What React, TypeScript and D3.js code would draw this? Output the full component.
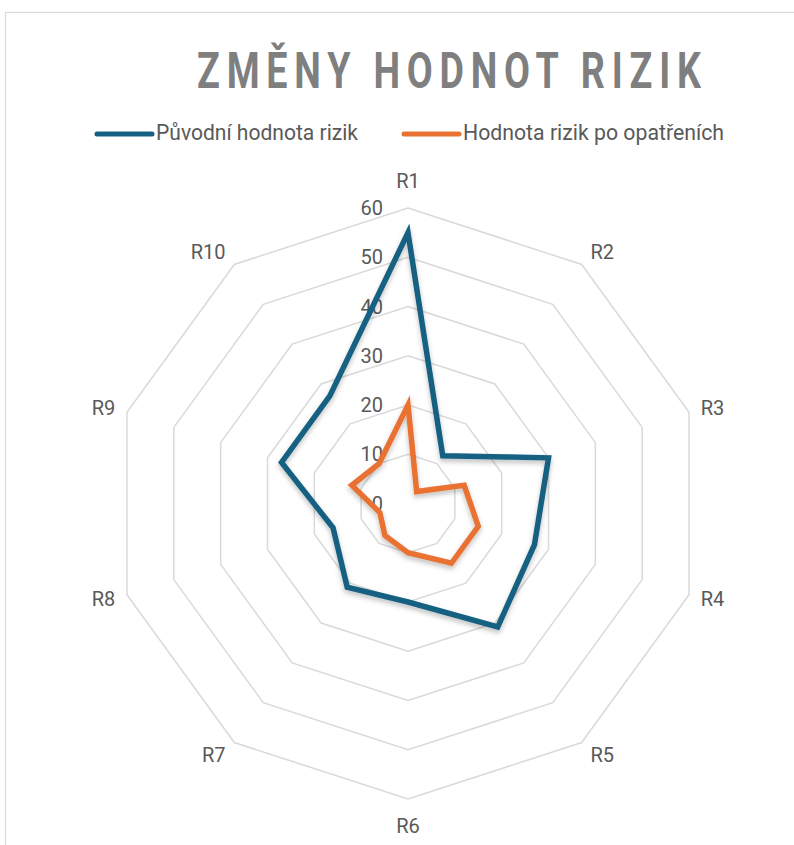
import { useEffect, useRef } from 'react';
import * as d3 from 'd3';

const categories = ['R1', 'R2', 'R3', 'R4', 'R5', 'R6', 'R7', 'R8', 'R9', 'R10'];
const puvodni = [55, 12, 30, 27, 31, 20, 21, 16, 27, 27];
const poOpatreni = [20, 3, 12, 15, 15, 10, 8, 6, 12, 10];
const ticks = [0, 10, 20, 30, 40, 50, 60];

const seriesNames = ['Původní hodnota rizik', 'Hodnota rizik po opatřeních'];
const colors = ['#156082', '#E97132'];

export default function App() {
  const svgRef = useRef<SVGSVGElement>(null);

  useEffect(() => {
    const svg = d3.select(svgRef.current);
    svg.selectAll('*').remove();

    const cx = 408;
    const cy = 503.5;
    const r = d3.scaleLinear().domain([0, 60]).range([0, 295.5]);
    const angle = (i: number) => (i * 2 * Math.PI) / categories.length;

    const defs = svg.append('defs');
    defs
      .append('filter')
      .attr('id', 'shadow')
      .attr('x', '-20%')
      .attr('y', '-20%')
      .attr('width', '140%')
      .attr('height', '140%')
      .append('feDropShadow')
      .attr('dx', 0)
      .attr('dy', 3)
      .attr('stdDeviation', 2.5)
      .attr('flood-color', '#000')
      .attr('flood-opacity', 0.25);

    // frame
    svg
      .append('rect')
      .attr('x', 5.5)
      .attr('y', 12.5)
      .attr('width', 820)
      .attr('height', 860)
      .attr('fill', 'none')
      .attr('stroke', '#d9d9d9')
      .attr('stroke-width', 1.2);

    // title: narrow spaced caps, squeezed horizontally to the reference width
    const titleG = svg.append('g');
    const title = titleG
      .append('text')
      .attr('x', 0)
      .attr('y', 0)
      .attr('letter-spacing', 9)
      .attr('font-family', 'Roboto, sans-serif')
      .attr('font-weight', 'bold')
      .attr('font-size', 50)
      .attr('fill', '#7f7f7f')
      .text('ZMĚNY HODNOT RIZIK');
    const tw = (title.node() as SVGTextElement).getComputedTextLength() - 9;
    const sx = tw > 0 ? 504 / tw : 1;
    titleG.attr('transform', `translate(197,88) scale(${sx},1)`);

    // legend
    const legendX = [97, 404];
    const legendTextW = [202, 261];
    seriesNames.forEach((name, i) => {
      svg
        .append('line')
        .attr('x1', legendX[i])
        .attr('x2', legendX[i] + 55)
        .attr('y1', 134)
        .attr('y2', 134)
        .attr('stroke', colors[i])
        .attr('stroke-width', 5)
        .attr('stroke-linecap', 'round');
      svg
        .append('text')
        .attr('x', legendX[i] + 59)
        .attr('y', 140)
        .attr('textLength', legendTextW[i])
        .attr('lengthAdjust', 'spacingAndGlyphs')
        .attr('font-family', 'Roboto, sans-serif')
        .attr('font-size', 22)
        .attr('fill', '#595959')
        .text(name);
    });

    const g = svg.append('g').attr('transform', `translate(${cx},${cy})`);

    // grid rings
    const ring = d3
      .lineRadial<string>()
      .angle((_, i) => angle(i))
      .curve(d3.curveLinearClosed);
    ticks
      .filter((t) => t > 0)
      .forEach((t) => {
        g.append('path')
          .attr('d', ring.radius(r(t))(categories))
          .attr('fill', 'none')
          .attr('stroke', '#d9d9d9')
          .attr('stroke-width', 1.5);
      });

    // tick labels
    g.selectAll('.tick')
      .data(ticks)
      .join('text')
      .attr('x', -25)
      .attr('y', (d) => -r(d))
      .attr('text-anchor', 'end')
      .attr('dominant-baseline', 'central')
      .attr('font-family', 'Roboto, sans-serif')
      .attr('font-size', 20)
      .attr('fill', '#595959')
      .text((d) => d);

    // category labels, placed beside the outer ring's vertex
    const outer = r(60);
    g.selectAll('.cat')
      .data(categories)
      .join('text')
      .each(function (d, i) {
        const s = Math.sin(angle(i));
        const c = Math.cos(angle(i));
        const px = s * outer;
        const py = -c * outer;
        const el = d3.select(this);
        if (Math.abs(s) < 0.01) {
          el.attr('x', px)
            .attr('y', py - c * 27)
            .attr('text-anchor', 'middle');
        } else {
          const gap = 4 + 8 * Math.abs(s);
          el.attr('x', px + Math.sign(s) * gap)
            .attr('y', py - c * 15)
            .attr('text-anchor', s > 0 ? 'start' : 'end');
        }
      })
      .attr('dominant-baseline', 'central')
      .attr('font-family', 'Roboto, sans-serif')
      .attr('font-size', 20)
      .attr('fill', '#595959')
      .text((d) => d);

    // series
    const line = d3
      .lineRadial<number>()
      .angle((_, i) => angle(i))
      .radius((d) => r(d))
      .curve(d3.curveLinearClosed);

    [puvodni, poOpatreni].forEach((vals, i) => {
      g.append('path')
        .attr('d', line(vals))
        .attr('fill', 'none')
        .attr('stroke', colors[i])
        .attr('stroke-width', 5.5)
        .attr('stroke-linejoin', 'miter')
        .attr('filter', 'url(#shadow)');
    });
  }, []);

  return (
    <svg
      ref={svgRef}
      width={794}
      height={845}
      style={{ position: 'absolute', left: 0, top: 0, background: '#fff' }}
    />
  );
}
